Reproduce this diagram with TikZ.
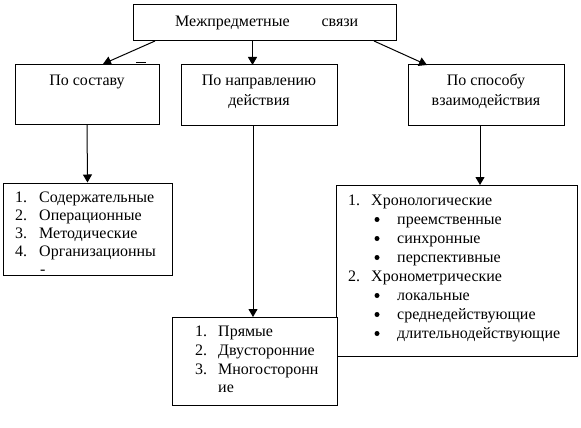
\documentclass[tikz,border=0pt]{standalone}
\usepackage{fontspec}
\setmainfont{Liberation Serif}
\usetikzlibrary{arrows.meta}
\begin{document}
\begin{tikzpicture}[x=1pt,y=-1pt,
  box/.style={draw,line width=1pt,fill=white,inner sep=0pt},
  txt/.style={anchor=base,inner sep=0pt,font=\fontsize{16}{18}\selectfont},
  ltxt/.style={txt,anchor=base west},
  conn/.style={line width=1pt},
  arr/.style={conn,-{Triangle[length=8pt,width=9pt]}},
  dotm/.style={circle,fill,inner sep=0pt,minimum size=5pt}]
\useasboundingbox (0,0) rectangle (581,428);
% boxes
\node[box,minimum width=263pt,minimum height=36pt] (top) at (264.5,23) {};
\node[box,minimum width=144pt,minimum height=60pt] (L) at (87,94.5) {};
\node[box,minimum width=156pt,minimum height=60pt] (M) at (259,95) {};
\node[box,minimum width=156pt,minimum height=60pt] (R) at (486,95) {};
\node[box,minimum width=169pt,minimum height=92pt] (LL) at (87.5,229) {};
\node[box,minimum width=241pt,minimum height=171pt] (RL) at (456.5,270.5) {};
\node[box,minimum width=165pt,minimum height=88pt] (ML) at (254.5,361) {};
% titles
\node[ltxt] (t0) at (175,27) {Межпредметные\hspace{32pt}связи};
\node[txt] (t1) at (87,85) {По составу};
\node[txt] (t2a) at (259,85) {По направлению};
\node[txt] (t2b) at (259,105) {действия};
\node[txt] (t3a) at (486,85) {По способу};
\node[txt] (t3b) at (486,105) {взаимодействия};
% small mark
\draw[line width=1.8pt] (136,62.5) -- (146,62.5);
% left list
\foreach \n/\t/\y in {1/Содержательные/202,2/Операционные/220,3/Методические/238,4/Организационны/256}{
  \node[ltxt] (ln\n) at (15,\y) {\n.};
  \node[ltxt] (lt\n) at (39,\y) {\t};
}
\node[ltxt] (ldash) at (40,274) {-};
% right list
\node[ltxt] (rn1) at (348,205) {1.};
\node[ltxt] (rt1) at (371,205) {Хронологические};
\node[ltxt] (rn2) at (348,281) {2.};
\node[ltxt] (rt2) at (371,281) {Хронометрические};
\foreach \k/\t/\y in {a/преемственные/224,b/синхронные/243,c/перспективные/262,d/локальные/300,e/среднедействующие/319,f/длительнодействующие/338}{
  \node[dotm] (rb\k) at (377,\y-4.5) {};
  \node[ltxt] (rs\k) at (397,\y) {\t};
}
% bottom list
\foreach \n/\t/\y in {1/Прямые/336,2/Двусторонние/355,3/Многосторонн/374}{
  \node[ltxt] (mn\n) at (195,\y) {\n.};
  \node[ltxt] (mt\n) at (218,\y) {\t};
}
\node[ltxt] (mt4) at (218,392) {ие};
% connector coordinates
\coordinate (s1) at (155,41);
\coordinate (e1) at (103,64);
\coordinate (s2) at (252.5,41);
\coordinate (e2) at (252.5,65);
\coordinate (s3) at (374,41);
\coordinate (e3) at (427,65);
\coordinate (v1) at (87,124.5);
\coordinate (v2) at (253,125);
\coordinate (v2e) at (253,317);
\coordinate (v3) at (480,125);
\coordinate (v3e) at (480,185);
\draw[arr] (s1) -- (e1);
\draw[arr] (s2) -- (e2);
\draw[arr] (s3) -- (e3);
\draw[arr] (v1) -- (LL.north);
\draw[arr] (v2) -- (v2e);
\draw[arr] (v3) -- (v3e);
\end{tikzpicture}
\end{document}
